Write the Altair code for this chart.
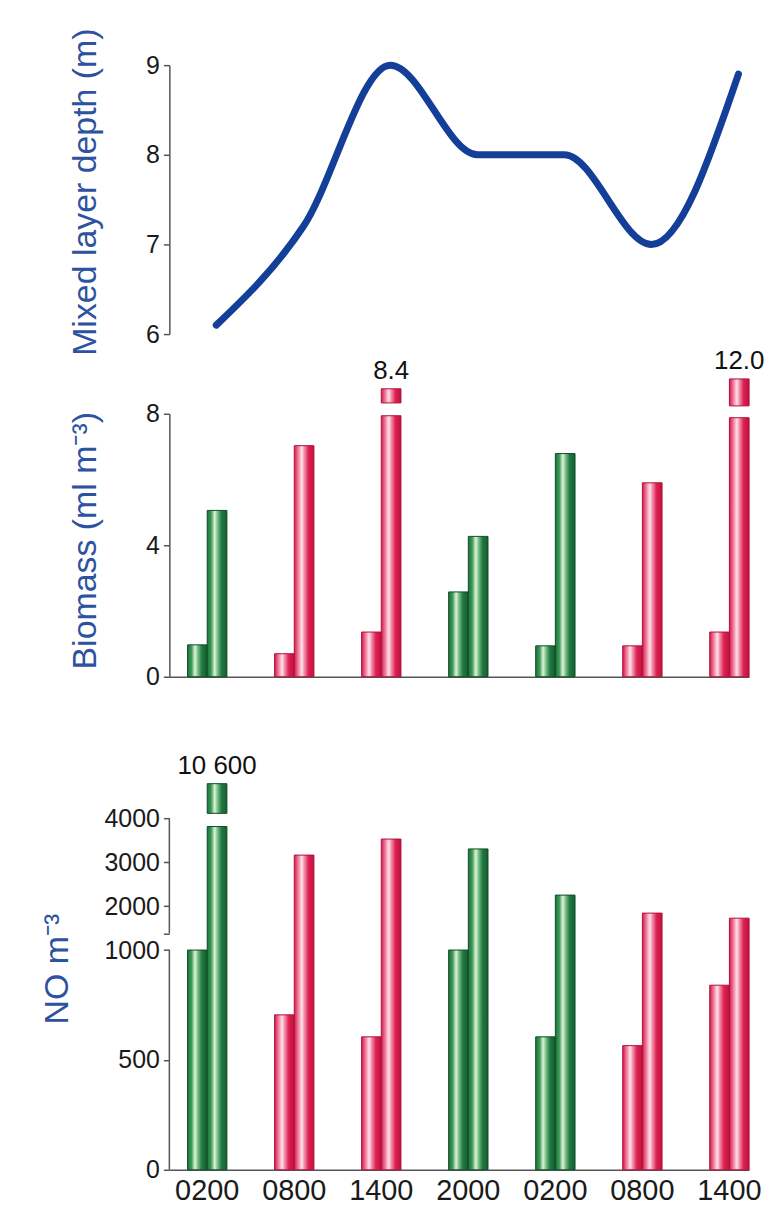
import altair as alt
import pandas as pd

# ---------------- data ----------------
times = ["0200", "0800", "1400", "2000", "0200", "0800", "1400"]
days = [1, 1, 1, 1, 2, 2, 2]
period = ["night", "day", "day", "night", "night", "day", "day"]

mixed_depth = [6.1, 7.2, 9.0, 8.0, 8.0, 7.0, 8.9]

bio_left = [0.97, 0.70, 1.36, 2.58, 0.94, 0.94, 1.36]
bio_right = [5.06, 7.03, 7.94, 4.27, 6.79, 5.90, 7.88]
bio_break_slot = [2, 6]
bio_break_lo = [8.33, 8.24]
bio_break_hi = [8.76, 9.06]
bio_break_label = ["8.4", "12.0"]

no_left = [1000, 705, 605, 1000, 605, 565, 840]
no_right = [3810, 3160, 3525, 3300, 2250, 1840, 1725]
no_break_slot = [0]
no_break_lo = [4110]
no_break_hi = [4785]
no_break_label = ["10 600"]

no_ticks = [0, 500, 1000, 2000, 3000, 4000]
no_axis_lo = [0, 1380]
no_axis_hi = [1000, 4000]

BREAK = 1000      # NO axis: linear below, compressed above
COMPRESS = 5

# ---------------- helpers ----------------
slots = [f"{t}_{d}" for t, d in zip(times, days)]


def tf(v):
    return v if v <= BREAK else BREAK + (v - BREAK) / COMPRESS


T_EXPR = f"datum.{{f}} <= {BREAK} ? datum.{{f}} : {BREAK} + (datum.{{f}} - {BREAK}) / {COMPRESS}"


def bar_frame(left, right, b_slot, b_lo, b_hi, b_lab):
    rows = []
    for i, s in enumerate(slots):
        rows.append(dict(slot=s, side="L", lo=0, hi=left[i], period=period[i], label=""))
        rows.append(dict(slot=s, side="R", lo=0, hi=right[i], period=period[i], label=""))
    for k, i in enumerate(b_slot):
        rows.append(dict(slot=slots[i], side="R", lo=b_lo[k], hi=b_hi[k],
                         period=period[i], label=b_lab[k]))
    return pd.DataFrame(rows)


bio_df = bar_frame(bio_left, bio_right, bio_break_slot, bio_break_lo, bio_break_hi, bio_break_label)
no_df = bar_frame(no_left, no_right, no_break_slot, no_break_lo, no_break_hi, no_break_label)
line_df = pd.DataFrame(dict(slot=slots, depth=mixed_depth))
axis_df = pd.DataFrame(dict(lo=no_axis_lo, hi=no_axis_hi))

W = 582
H_TOP, H_MID = 270, 264
NO_PLOT_H = 353                  # height of the 0..4000 part of the NO axis
NO_EXTRA = 62                    # room above 4000 for the broken bar and its label
H_BOT = NO_PLOT_H + NO_EXTRA
NO_TOP = tf(4000) * H_BOT / NO_PLOT_H

XSCALE = alt.Scale(type="band", domain=slots, paddingInner=0.548, paddingOuter=0.1045, align=1)
OFFSCALE = alt.Scale(domain=["L", "R"], paddingInner=0, paddingOuter=0)

TITLE_BLUE = "#2d52a0"
AXIS_GREY = "#555555"
LABEL_FONT = "Liberation Sans Narrow, Arial Narrow, Liberation Sans, sans-serif"


def grad(stops):
    return alt.LinearGradient(
        gradient="linear", x1=0, x2=1, y1=0, y2=0,
        stops=[alt.GradientStop(offset=o, color=c) for o, c in stops])


GREEN = grad([(0, "#1d6f3b"), (0.2, "#3d9a57"), (0.38, "#dff5d8"), (0.52, "#7cc08a"),
              (0.72, "#227a42"), (1, "#145c2f")])
RED = grad([(0, "#d41a4b"), (0.2, "#f07b9b"), (0.38, "#ffe3eb"), (0.52, "#f38aa6"),
            (0.72, "#dc2153"), (1, "#c0113e")])

# ---------------- top panel: mixed layer depth ----------------
top = alt.Chart(line_df).mark_line(
    color="#143f98", strokeWidth=7, interpolate="monotone", strokeCap="round"
).encode(
    x=alt.X("slot:N", sort=slots, scale=XSCALE, axis=None, bandPosition=0.73),
    y=alt.Y("depth:Q", scale=alt.Scale(domain=[6, 9], nice=False, zero=False),
            axis=alt.Axis(values=[6, 7, 8, 9], title="Mixed layer depth (m)",
                          titleX=-74, titleY=127)),
).properties(width=W, height=H_TOP)


# ---------------- bar panels ----------------
def bar_panel(df, yfield, yscale, yaxis, xaxis, transforms=None):
    base = alt.Chart(df)
    if transforms:
        for t in transforms:
            base = base.transform_calculate(**t)
    x = alt.X("slot:N", sort=slots, scale=XSCALE, axis=xaxis)
    xo = alt.XOffset("side:N", sort=["L", "R"], scale=OFFSCALE)
    layers = []
    for per, fill, stroke in [("night", GREEN, "#0f4d27"), ("day", RED, "#b0103b")]:
        layers.append(
            base.transform_filter(alt.datum.period == per).mark_bar(
                fill=fill, stroke=stroke, strokeWidth=1
            ).encode(
                x=x, xOffset=xo,
                y=alt.Y(f"{yfield}hi:Q", scale=yscale, axis=yaxis),
                y2=alt.Y2(f"{yfield}lo:Q"),
            )
        )
    layers.append(
        base.transform_filter(alt.datum.label != "").mark_text(
            baseline="bottom", dy=-5, fontSize=26, font="Liberation Sans", color="#111111"
        ).encode(x=x, xOffset=xo, y=alt.Y(f"{yfield}hi:Q"), text="label:N")
    )
    return layers


bio_layers = bar_panel(
    bio_df, "", alt.Scale(domain=[0, 8], nice=False),
    alt.Axis(values=[0, 4, 8], title="Biomass (ml m\u207b\u00b3)", titleX=-74, titleY=127),
    alt.Axis(labels=False, ticks=False, title=None, domain=True),
)
mid = alt.layer(*bio_layers).properties(width=W, height=H_MID)

no_tick_t = [tf(v) for v in no_ticks] + [tf(no_axis_lo[1])]
no_label_expr = (
    f"datum.value <= {BREAK} ? format(datum.value, 'd') : "
    f"((({BREAK} + (datum.value - {BREAK}) * {COMPRESS}) % 1000) == 0 ? "
    f"format({BREAK} + (datum.value - {BREAK}) * {COMPRESS}, 'd') : '')"
)
no_layers = bar_panel(
    no_df, "t", alt.Scale(domain=[0, NO_TOP], nice=False),
    alt.Axis(values=no_tick_t, labelExpr=no_label_expr, domain=False,
             title="NO m\u207b\u00b3", titleX=-102, titleY=213),
    alt.Axis(labels=True, ticks=False, title=None, domain=True,
             labelExpr="split(datum.value, '_')[0]", labelAngle=0,
             labelFont="Liberation Sans", labelFontSize=29, labelPadding=7),
    transforms=[{"thi": T_EXPR.format(f="hi")}, {"tlo": T_EXPR.format(f="lo")}],
)
axis_rule = alt.Chart(axis_df).transform_calculate(
    thi=T_EXPR.format(f="hi"), tlo=T_EXPR.format(f="lo")
).mark_rule(color=AXIS_GREY, strokeWidth=1.5).encode(
    x=alt.value(0), y=alt.Y("tlo:Q"), y2=alt.Y2("thi:Q")
)
bot = alt.layer(axis_rule, *no_layers).properties(width=W, height=H_BOT)

chart = alt.vconcat(
    top, mid, bot, spacing=80, bounds="flush",
).properties(
    padding={"left": 33, "top": 17, "right": 4, "bottom": 4},
    background="white",
).configure_view(stroke=None).configure_axis(
    grid=False,
    domainColor=AXIS_GREY, domainWidth=1.5,
    tickColor=AXIS_GREY, tickWidth=1.5, tickSize=6,
    labelFont=LABEL_FONT, labelFontSize=25, labelColor="#1a1a1a", labelPadding=4,
    titleFont="Liberation Sans", titleFontSize=34, titleFontWeight="normal",
    titleColor=TITLE_BLUE, titleBaseline="alphabetic",
)

chart.save("out.html", embed_options={"renderer": "svg", "actions": False})
